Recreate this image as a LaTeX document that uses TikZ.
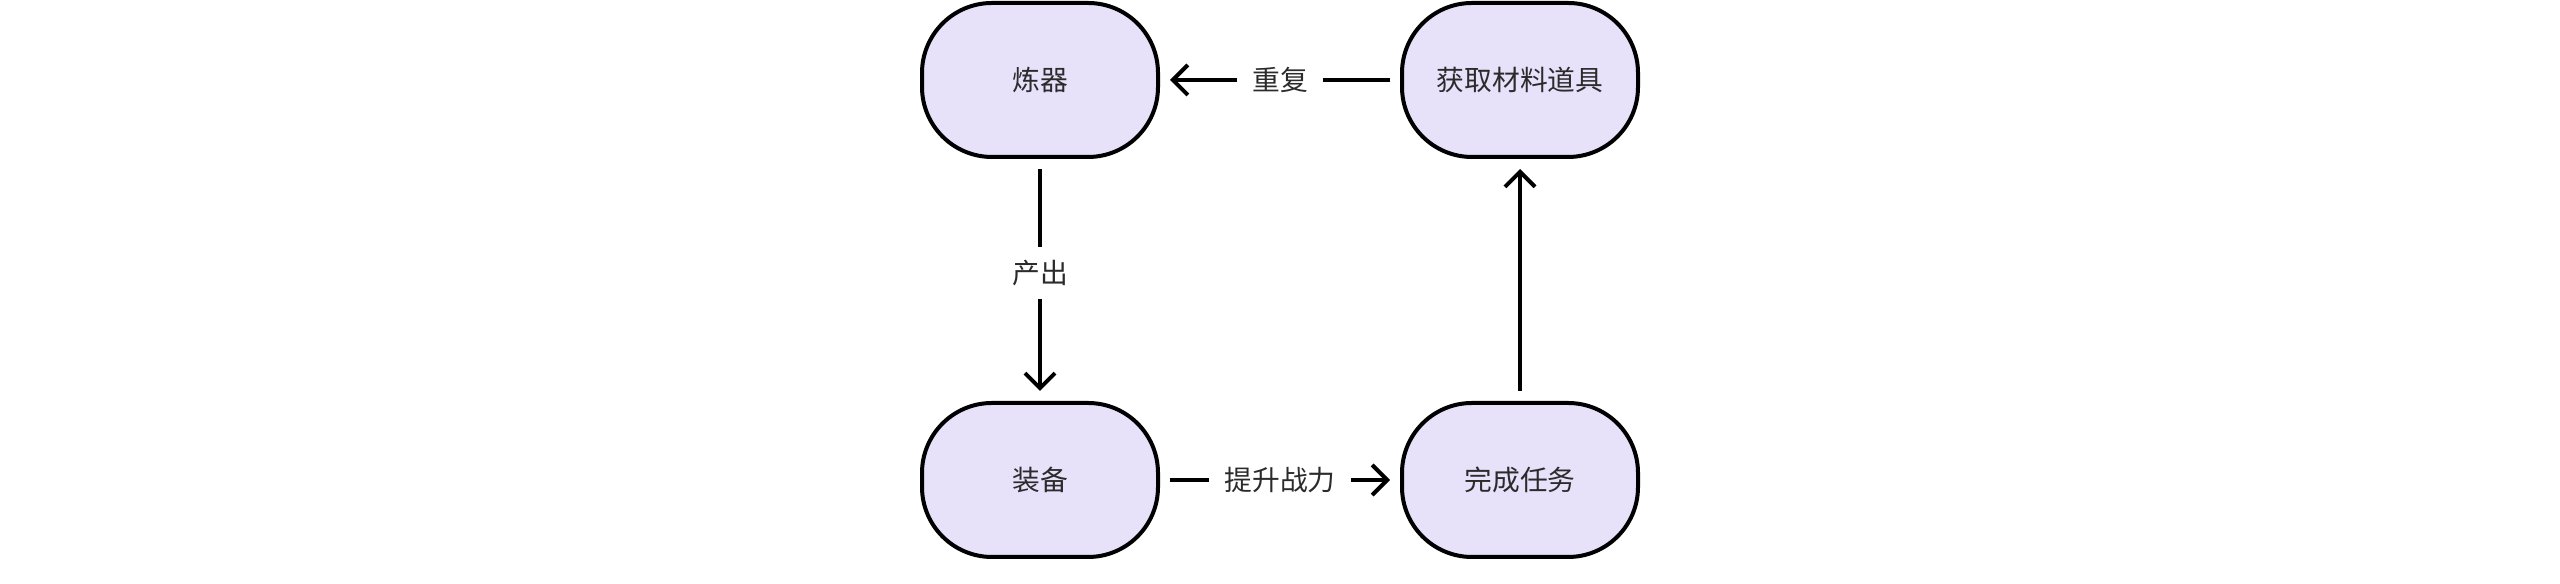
\documentclass[tikz,border=0pt]{standalone}
\usepackage{fontspec}
\newfontfamily\cjk{Noto Sans CJK SC}
\usetikzlibrary{arrows.meta}
\definecolor{lavande}{HTML}{E7E1FA}
\definecolor{encre}{HTML}{2B2B2B}
\begin{document}
\begin{tikzpicture}[x=1cm,y=1cm]
			\tikzstyle{noeud}=[draw=black,line width=0.04cm,fill=lavande,rounded corners=0.7cm,minimum width=2.36cm,minimum height=1.54cm,text=encre,font=\cjk\fontsize{7.9}{9.5}\selectfont]
			\tikzstyle{fleche}=[-{Straight Barb[length=0.15cm,width=0.3cm,line width=0.04cm]},line width=0.04cm,shorten >=0.1cm,shorten <=0.1cm]
			\tikzstyle{etiquette}=[pos=0.5,fill=white,inner xsep=0.15cm,inner ysep=0.13cm,text=encre,font=\cjk\fontsize{7.9}{9.5}\selectfont]
			\def\ColonneA{10.40}
			\def\ColonneB{15.20}
			\def\LigneHaut{5.04}
			\def\LigneBas{1.04}
			\useasboundingbox (0,0) rectangle (25.6,5.84);
			\node[noeud] (Lian) at (\ColonneA,\LigneHaut) {炼器};
			\node[noeud] (Huoqu) at (\ColonneB,\LigneHaut) {获取材料道具};
			\node[noeud] (Zhuang) at (\ColonneA,\LigneBas) {装备};
			\node[noeud] (Wancheng) at (\ColonneB,\LigneBas) {完成任务};
			\draw[fleche] (Huoqu)--(Lian) node[etiquette] {重复};
			\draw[fleche] (Lian)--(Zhuang) node[etiquette,pos=0.47] {产出};
			\draw[fleche] (Zhuang)--(Wancheng) node[etiquette] {提升战力};
			\draw[fleche] (Wancheng)--(Huoqu);
		\end{tikzpicture}
\end{document}
